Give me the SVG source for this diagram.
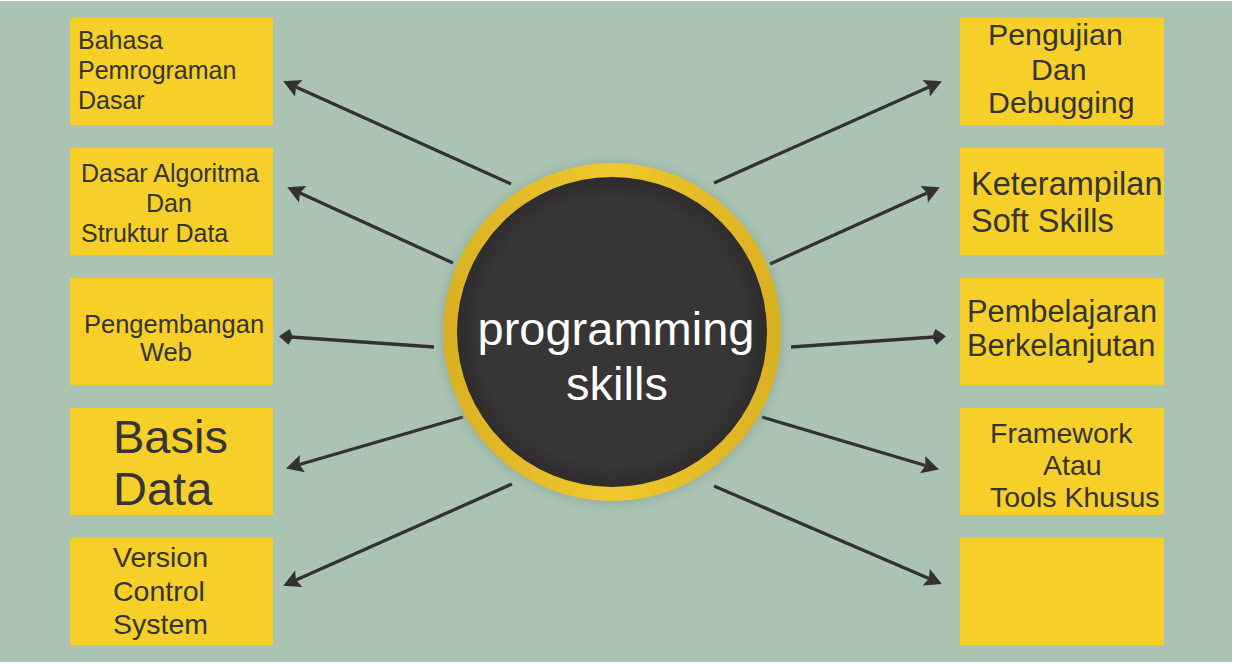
<svg xmlns="http://www.w3.org/2000/svg" width="1234" height="664" viewBox="0 0 1234 664">
<defs>
<style>
.box{fill:#f6cf29}
.t{font-family:"Liberation Sans",Arial,sans-serif;fill:#363435}
.c{fill:none;stroke:#333132;stroke-width:3.3}
</style>
<marker id="ah" markerUnits="userSpaceOnUse" markerWidth="17" markerHeight="18" refX="3" refY="9" orient="auto" overflow="visible">
<path d="M0,0 L17,9 L0,18 L3,9 z" fill="#333132"/>
</marker>
<marker id="ak" markerUnits="userSpaceOnUse" markerWidth="14" markerHeight="16" refX="2" refY="8" orient="auto" overflow="visible">
<path d="M0,8 L4,0 L14,8 L4,16 z" fill="#333132"/>
</marker>
<linearGradient id="ring" x1="0" y1="0" x2="1" y2="0">
<stop offset="0" stop-color="#d9b023"/>
<stop offset="0.5" stop-color="#efc92c"/>
<stop offset="1" stop-color="#d9b023"/>
</linearGradient>
<radialGradient id="core" cx="0.5" cy="0.5" r="0.5">
<stop offset="0.85" stop-color="#373536"/>
<stop offset="1" stop-color="#2e2c2d"/>
</radialGradient>
<filter id="blur" x="-20%" y="-20%" width="140%" height="140%">
<feGaussianBlur stdDeviation="5"/>
</filter>
</defs>
<rect x="0" y="0" width="1234" height="664" fill="#ffffff"/>
<rect x="0" y="1" width="1232" height="661" fill="#aac3b3"/>

<g id="connectors">
<line class="c" x1="511" y1="184" x2="296" y2="87" marker-end="url(#ah)"/>
<line class="c" x1="453" y1="263" x2="300" y2="193" marker-end="url(#ah)"/>
<line class="c" x1="434" y1="347" x2="291" y2="337" marker-end="url(#ak)"/>
<line class="c" x1="463" y1="417" x2="299.5" y2="464.5" marker-end="url(#ah)"/>
<line class="c" x1="512" y1="484" x2="296" y2="580" marker-end="url(#ah)"/>
<line class="c" x1="714" y1="183" x2="929" y2="87" marker-end="url(#ah)"/>
<line class="c" x1="770" y1="264" x2="927" y2="193" marker-end="url(#ah)"/>
<line class="c" x1="791" y1="347" x2="934" y2="337" marker-end="url(#ak)"/>
<line class="c" x1="762" y1="417" x2="925.5" y2="465.5" marker-end="url(#ah)"/>
<line class="c" x1="714" y1="486" x2="929" y2="578.5" marker-end="url(#ah)"/>
</g>

<g id="center">
<circle cx="612" cy="333" r="172" fill="#7f9a88" opacity="0.45" filter="url(#blur)"/>
<circle cx="612" cy="332" r="169" fill="url(#ring)"/>
<circle cx="612" cy="332" r="155" fill="url(#core)"/>
<text class="t" x="616" y="345" font-size="47" text-anchor="middle" style="fill:#ffffff">programming</text>
<text class="t" x="617" y="400" font-size="47" text-anchor="middle" style="fill:#ffffff">skills</text>
</g>

<g id="n-bahasa">
<rect class="box" x="70" y="18" width="203" height="107"/>
<text class="t" font-size="25"><tspan x="78" y="49">Bahasa</tspan><tspan x="78" y="79">Pemrograman</tspan><tspan x="78" y="109">Dasar</tspan></text>
</g>
<g id="n-algoritma">
<rect class="box" x="70" y="148" width="203" height="107"/>
<text class="t" font-size="25"><tspan x="81" y="182">Dasar Algoritma</tspan><tspan x="146" y="212">Dan</tspan><tspan x="81" y="242">Struktur Data</tspan></text>
</g>
<g id="n-web">
<rect class="box" x="70" y="278" width="203" height="107"/>
<text class="t" font-size="25.5"><tspan x="84" y="333">Pengembangan</tspan><tspan x="140" y="361">Web</tspan></text>
</g>
<g id="n-basis">
<rect class="box" x="70" y="408" width="203" height="107"/>
<text class="t" font-size="47"><tspan x="113" y="453">Basis</tspan><tspan x="113" y="505">Data</tspan></text>
</g>
<g id="n-vcs">
<rect class="box" x="70" y="538" width="203" height="107"/>
<text class="t" font-size="28.5"><tspan x="113" y="567">Version</tspan><tspan x="113" y="601">Control</tspan><tspan x="113" y="634">System</tspan></text>
</g>

<g id="n-pengujian">
<rect class="box" x="960" y="18" width="204" height="107"/>
<text class="t" font-size="30.3"><tspan x="988" y="45">Pengujian</tspan><tspan x="1031" y="80">Dan</tspan><tspan x="988" y="113">Debugging</tspan></text>
</g>
<g id="n-softskills">
<rect class="box" x="960" y="148" width="204" height="107"/>
<text class="t" font-size="32.5"><tspan x="971" y="195">Keterampilan</tspan><tspan x="971" y="232">Soft Skills</tspan></text>
</g>
<g id="n-pembelajaran">
<rect class="box" x="960" y="278" width="204" height="107"/>
<text class="t" font-size="30.8"><tspan x="967" y="322">Pembelajaran</tspan><tspan x="967" y="356">Berkelanjutan</tspan></text>
</g>
<g id="n-framework">
<rect class="box" x="960" y="408" width="204" height="107"/>
<text class="t" font-size="28.5"><tspan x="990" y="443">Framework</tspan><tspan x="1043" y="475">Atau</tspan><tspan x="990" y="507">Tools Khusus</tspan></text>
</g>
<g id="n-empty">
<rect class="box" x="960" y="538" width="204" height="107"/>
</g>
</svg>
